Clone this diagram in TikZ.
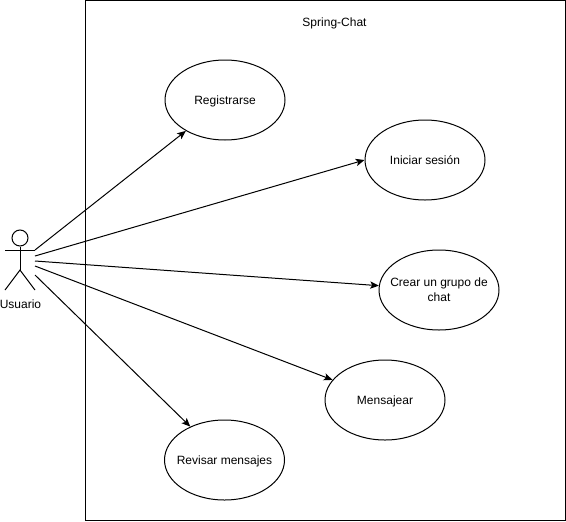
\documentclass[tikz,border=0pt]{standalone}
\usepackage{fontspec}
\setmainfont{Liberation Sans}
\usetikzlibrary{arrows.meta}
\usetikzlibrary{shapes.geometric}

\begin{document}
\begin{tikzpicture}[x=.75pt, y=-.75pt,
line width=.75pt,
usecase/.style = {ellipse, draw=black, fill=white, minimum width=90pt, minimum height=60pt, inner xsep=-12pt, inner ysep=0pt, align=center, font=\fontsize{9pt}{11.5pt}\selectfont},
oneline/.style = {usecase, text height=7.5pt, text depth=1.5pt},
title/.style = {font=\fontsize{9pt}{11pt}\selectfont},
edge/.style = {-{Stealth[length=6.5pt,width=5.5pt,inset=1.5pt]}}]
\useasboundingbox (0,0) rectangle (566,521);
\node[draw=black, minimum width=360pt, minimum height=390pt, inner sep=0pt] (system) at (325,260) {};
\node[title] (name) at (334.5,23) {Spring-Chat};

\node[oneline] (registrarse) at (225,100) {Registrarse};
\node[oneline] (iniciar) at (425,160) {Iniciar sesión};
\node[usecase] (crear) at (439,290) {Crear un grupo de\\chat};
\node[oneline] (mensajear) at (385,400) {Mensajear};
\node[oneline] (revisar) at (224.5,460) {Revisar mensajes};

% actor
\node[circle, draw=black, minimum size=12pt, inner sep=0pt] (head) at (20,238) {};
\coordinate (hip) at (20,270);
\coordinate (armL) at (5,250);
\coordinate (armR) at (35,250);
\coordinate (legL) at (5,290);
\coordinate (legR) at (35,290);
\node[title] (usuario) at (20.5,304) {Usuario};
\draw (head) -- (hip);
\draw (armL) -- (armR);
\draw (legL) -- (hip) -- (legR);

\coordinate (from1) at (35,250);
\coordinate (from2) at (35,256);
\coordinate (from3) at (35,261);
\coordinate (from4) at (35,266);
\coordinate (from5) at (35,275);
\draw[edge] (from1) to (registrarse);
\draw[edge] (from2) to (iniciar.west);
\draw[edge] (from3) to (crear);
\draw[edge] (from4) to (mensajear);
\draw[edge] (from5) to (revisar);
\end{tikzpicture}
\end{document}
